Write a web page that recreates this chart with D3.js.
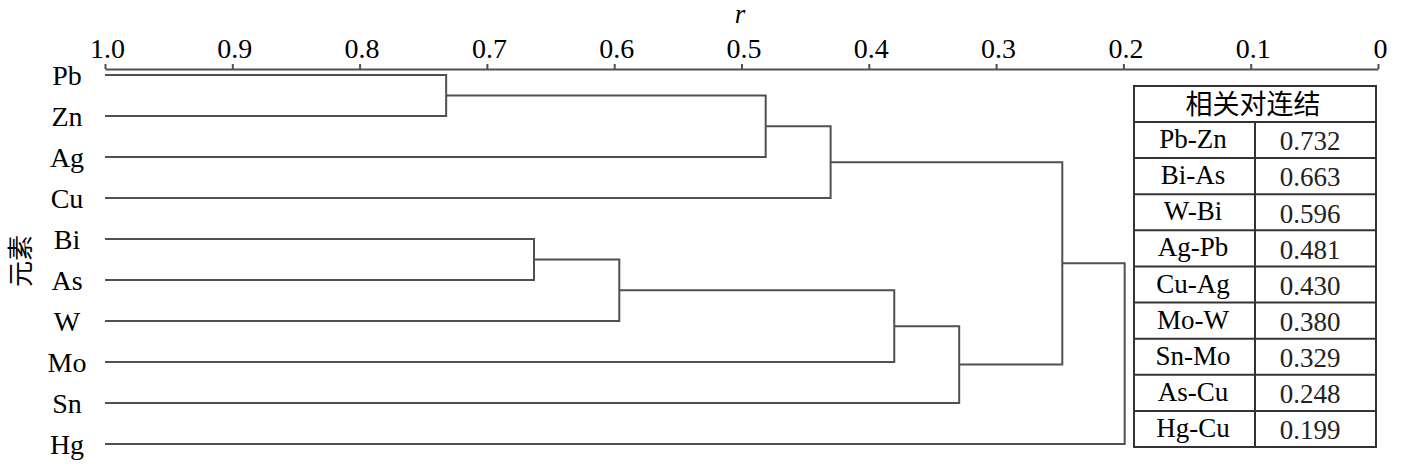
<!DOCTYPE html>
<html><head><meta charset="utf-8">
<script src="https://cdn.jsdelivr.net/npm/d3@7/dist/d3.min.js"></script>
</head>
<body style="margin:0;background:#fff">
<svg id="chart" width="1402" height="469" style="font-family:Liberation Serif"></svg>
<script>
// ---- data ----
const leaves = ["Pb","Zn","Ag","Cu","Bi","As","W","Mo","Sn","Hg"];
const pairs = ["Pb-Zn","Bi-As","W-Bi","Ag-Pb","Cu-Ag","Mo-W","Sn-Mo","As-Cu","Hg-Cu"];
const rValues = [0.732,0.663,0.596,0.481,0.430,0.380,0.329,0.248,0.199];
const tickValues = [1.0,0.9,0.8,0.7,0.6,0.5,0.4,0.3,0.2,0.1,0];
const tickLabels = ["1.0","0.9","0.8","0.7","0.6","0.5","0.4","0.3","0.2","0.1","0"];
const axisTitle = "r";
const yTitle = "元素";
const tableTitle = "相关对连结";

// ---- layout ----
const SERIF = "Liberation Serif";
const CJK = "Noto Sans CJK SC";
const svg = d3.select("#chart");
const x = d3.scaleLinear().domain([1,0]).range([105,1378]);
const y = d3.scalePoint().domain(leaves).range([75,444]);
const lineColor = "#505050";

// axis
const axis = d3.axisTop(x).tickValues(tickValues)
  .tickFormat((d,i)=>tickLabels[i]).tickSize(5).tickSizeOuter(0).tickPadding(6);
const gAx = svg.append("g").attr("transform","translate(0,69)").call(axis)
  .attr("font-family", null).style("font-family", SERIF);
gAx.select(".domain").attr("stroke",lineColor).attr("stroke-width",2);
gAx.selectAll(".tick line").attr("stroke",lineColor).attr("stroke-width",2);
gAx.selectAll(".tick text").attr("dx",2).attr("fill","#000")
  .style("font-family", SERIF).attr("font-size",28);

svg.append("text").attr("x",740).attr("y",23).attr("text-anchor","middle")
  .style("font-family", SERIF).attr("font-size",27).attr("font-style","italic").text(axisTitle);

// leaf labels
svg.append("g").selectAll("text").data(leaves).join("text")
  .attr("x",67).attr("y",d=>y(d)).attr("dy","0.35em").attr("text-anchor","middle")
  .style("font-family", SERIF).attr("font-size",28)
  .text(d=>d);

svg.append("text").attr("transform","translate(30,261) rotate(-90)")
  .attr("text-anchor","middle").attr("font-size",26)
  .style("font-family", CJK).text(yTitle);

// build tree
const current = {};
leaves.forEach(l=>{ current[l] = {name:l, r:1, y:y(l), members:[l]}; });
const merges = [];
pairs.forEach((p,i)=>{
  const [a,b] = p.split("-");
  const na = current[a], nb = current[b];
  const node = {r:rValues[i], y:(na.y+nb.y)/2, children:[na,nb], members:na.members.concat(nb.members)};
  node.members.forEach(m=>current[m]=node);
  merges.push(node);
});

svg.append("g").selectAll("path").data(merges).join("path")
  .attr("fill","none").attr("stroke",lineColor).attr("stroke-width",2)
  .attr("d",n=>{
    const [a,b] = n.children;
    return `M${x(a.r)},${a.y}H${x(n.r)}V${b.y}H${x(b.r)}`;
  });

// table
const tX0 = 1134, tX1 = 1376, tXm = 1255, tY0 = 86, tHead = 122, tY1 = 447;
const rowH = (tY1 - tHead) / pairs.length;
const tg = svg.append("g");
tg.append("rect").attr("x",tX0).attr("y",tY0).attr("width",tX1-tX0).attr("height",tY1-tY0)
  .attr("fill","#fff").attr("stroke","#333").attr("stroke-width",2);
tg.append("text").attr("x",(tX0+tX1)/2-2).attr("y",(tY0+tHead)/2).attr("dy","0.36em")
  .attr("text-anchor","middle").attr("font-size",27)
  .style("font-family", CJK).text(tableTitle);
tg.selectAll("line.row").data(pairs).join("line").attr("class","row")
  .attr("x1",tX0).attr("x2",tX1)
  .attr("y1",(d,i)=>tHead+i*rowH).attr("y2",(d,i)=>tHead+i*rowH)
  .attr("stroke","#333").attr("stroke-width",2);
tg.append("line").attr("x1",tXm).attr("x2",tXm).attr("y1",tHead).attr("y2",tY1)
  .attr("stroke","#333").attr("stroke-width",2);
tg.selectAll("text.pair").data(pairs).join("text").attr("class","pair")
  .attr("x",1193).attr("y",(d,i)=>tHead+(i+0.5)*rowH).attr("dy","0.3em")
  .attr("text-anchor","middle").style("font-family", SERIF).attr("font-size",27).text(d=>d);
tg.selectAll("text.val").data(rValues).join("text").attr("class","val")
  .attr("x",1310).attr("y",(d,i)=>tHead+(i+0.5)*rowH).attr("dy","0.38em")
  .attr("text-anchor","middle").style("font-family", SERIF).attr("font-size",27).attr("fill","#222")
  .text(d=>d3.format(".3f")(d));
</script>
</body></html>
